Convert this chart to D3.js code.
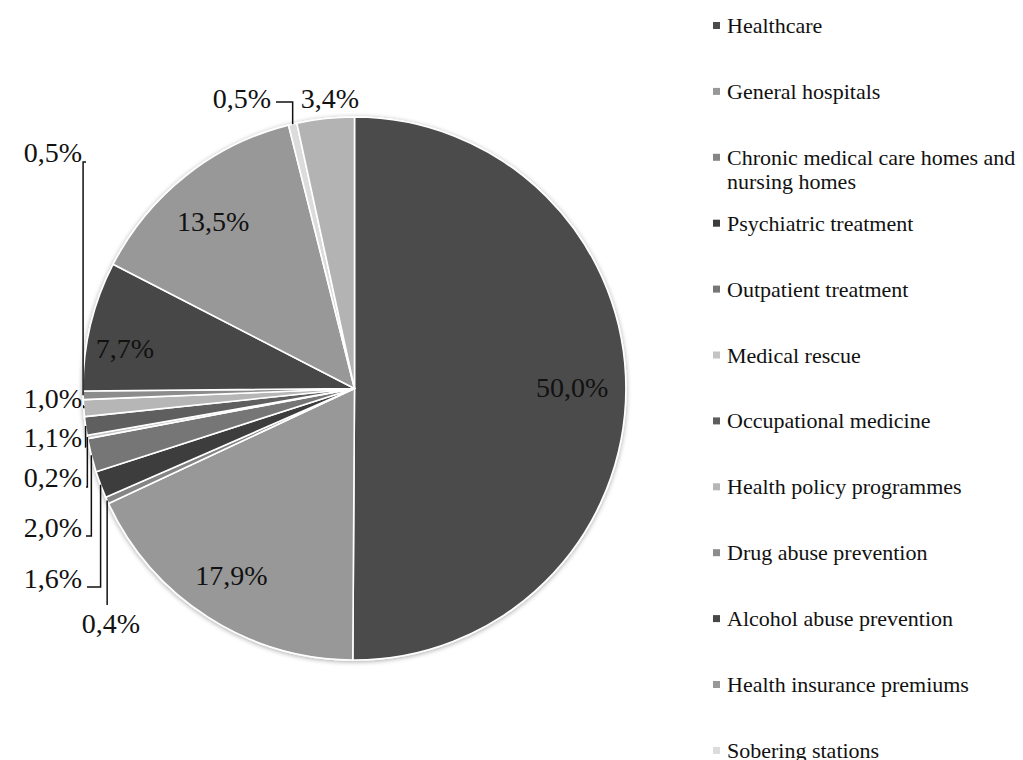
<html>
  <script src="https://cdn.jsdelivr.net/npm/d3@7"></script>
  <style>
    body { margin: 0; background: #fff; }
    svg text { font-family: "Liberation Serif", "Times New Roman", serif; fill: #111; }
  </style>
  <body>
    <svg id="chart" width="1023" height="760"></svg>
    <script>
      // data (clockwise from 12 o'clock)
      const categories = [
        "Healthcare",
        "General hospitals",
        "Chronic medical care homes and nursing homes",
        "Psychiatric treatment",
        "Outpatient treatment",
        "Medical rescue",
        "Occupational medicine",
        "Health policy programmes",
        "Drug abuse prevention",
        "Alcohol abuse prevention",
        "Health insurance premiums",
        "Sobering stations",
        "Other"
      ];
      const shares = [50.0, 17.9, 0.4, 1.6, 2.0, 0.2, 1.1, 1.0, 0.5, 7.7, 13.5, 0.5, 3.4];
      const colors = [
        "#4b4b4b", "#989898", "#858585", "#3c3c3c", "#767676", "#c4c4c4",
        "#5e5e5e", "#b6b6b6", "#8c8c8c", "#474747", "#989898", "#dcdcdc", "#b3b3b3"
      ];
      // legend wraps the long entry onto two lines
      const legendLines = categories.map(c =>
        c === "Chronic medical care homes and nursing homes"
          ? ["Chronic medical care homes and", "nursing homes"] : [c]);

      const width = 1023, height = 760;
      const cx = 354.5, cy = 388.5, radius = 271.5;

      const svg = d3.select("#chart");

      const defs = svg.append("defs");
      const f = defs.append("filter").attr("id", "shadow")
        .attr("x", "-10%").attr("y", "-10%").attr("width", "120%").attr("height", "120%");
      f.append("feGaussianBlur").attr("in", "SourceAlpha").attr("stdDeviation", 2.5).attr("result", "b");
      f.append("feOffset").attr("in", "b").attr("dx", 0).attr("dy", 1).attr("result", "o");
      f.append("feComponentTransfer").attr("in", "o").attr("result", "s")
        .append("feFuncA").attr("type", "linear").attr("slope", 0.35);
      const m = f.append("feMerge");
      m.append("feMergeNode").attr("in", "s");
      m.append("feMergeNode").attr("in", "SourceGraphic");

      const pie = d3.pie().sort(null).value(d => d);
      const arcs = pie(shares);
      const arc = d3.arc().innerRadius(0).outerRadius(radius);

      const g = svg.append("g").attr("transform", "translate(" + cx + "," + cy + ")");

      g.append("g").attr("filter", "url(#shadow)")
        .selectAll("path")
        .data(arcs)
        .enter()
        .append("path")
        .attr("d", arc)
        .attr("fill", (d, i) => colors[i])
        .attr("stroke", "#fff")
        .attr("stroke-width", 1.6)
        .attr("stroke-linejoin", "round");

      const fmt = v => d3.format(".1f")(v).replace(".", ",") + "%";
      const edgePoint = d => {
        const a = (d.startAngle + d.endAngle) / 2;
        return [radius * Math.sin(a), -radius * Math.cos(a)];
      };

      // label placement (page coordinates), inside ones are nudged from the centroid
      const insideLabels = { 0: [-5, -2], 1: [-3, 0], 9: [-13, 11], 10: [-3, 7] };
      const outsideLabels = {
        2: { x: 111, y: 633, anchor: "middle", lead: "below", ly: 605 },
        3: { x: 82, y: 588, anchor: "end", lx: 87, ly: 587 },
        4: { x: 82, y: 537, anchor: "end", lx: 86, ly: 536 },
        5: { x: 82, y: 487, anchor: "end", lx: 86, ly: 487 },
        6: { x: 82, y: 447, anchor: "end", lx: 86, ly: 447 },
        7: { x: 82, y: 408, anchor: "end", lx: 84, ly: 406 },
        8: { x: 82, y: 162, anchor: "end", lx: 86, ly: 162 },
        11: { x: 271, y: 108, anchor: "end", lx: 276, ly: 102 },
        12: { x: 330, y: 108, anchor: "middle" }
      };

      const labelRadius = radius * 0.82;
      arcs.forEach((d, i) => {
        const txt = fmt(shares[i]);
        if (insideLabels[i]) {
          const a = (d.startAngle + d.endAngle) / 2;
          const n = insideLabels[i];
          g.append("text")
            .attr("x", labelRadius * Math.sin(a) + n[0])
            .attr("y", -labelRadius * Math.cos(a) + n[1])
            .attr("text-anchor", "middle")
            .attr("dominant-baseline", "central")
            .attr("font-size", 28)
            .text(txt);
        } else if (outsideLabels[i]) {
          const o = outsideLabels[i];
          svg.append("text")
            .attr("x", o.x).attr("y", o.y)
            .attr("text-anchor", o.anchor)
            .attr("font-size", 28)
            .text(txt);
          if (o.ly !== undefined) {
            const p = edgePoint(d);
            const px = cx + p[0], py = cy + p[1];
            const pts = o.lead === "below"
              ? [[px, o.ly], [px, py]]
              : [[o.lx, o.ly], [px, o.ly], [px, py]];
            svg.append("path")
              .attr("d", d3.line()(pts))
              .attr("fill", "none")
              .attr("stroke", "#111")
              .attr("stroke-width", 1.5);
          }
        }
      });

      // legend
      const legend = svg.append("g").attr("transform", "translate(713,0)");
      const step = 65.9;
      const rows = legend.selectAll("g")
        .data(categories)
        .enter()
        .append("g")
        .attr("transform", (d, i) => "translate(0," + (33 + step * i) + ")");
      rows.append("rect")
        .attr("x", 0).attr("y", -11)
        .attr("width", 7).attr("height", 7)
        .attr("fill", (d, i) => colors[i]);
      rows.append("text")
        .attr("x", 14)
        .attr("font-size", 22)
        .selectAll("tspan")
        .data((d, i) => legendLines[i])
        .enter()
        .append("tspan")
        .attr("x", 14)
        .attr("dy", (d, j) => (j === 0 ? 0 : 24.7))
        .text(d => d);
    </script>
  </body>
</html>
